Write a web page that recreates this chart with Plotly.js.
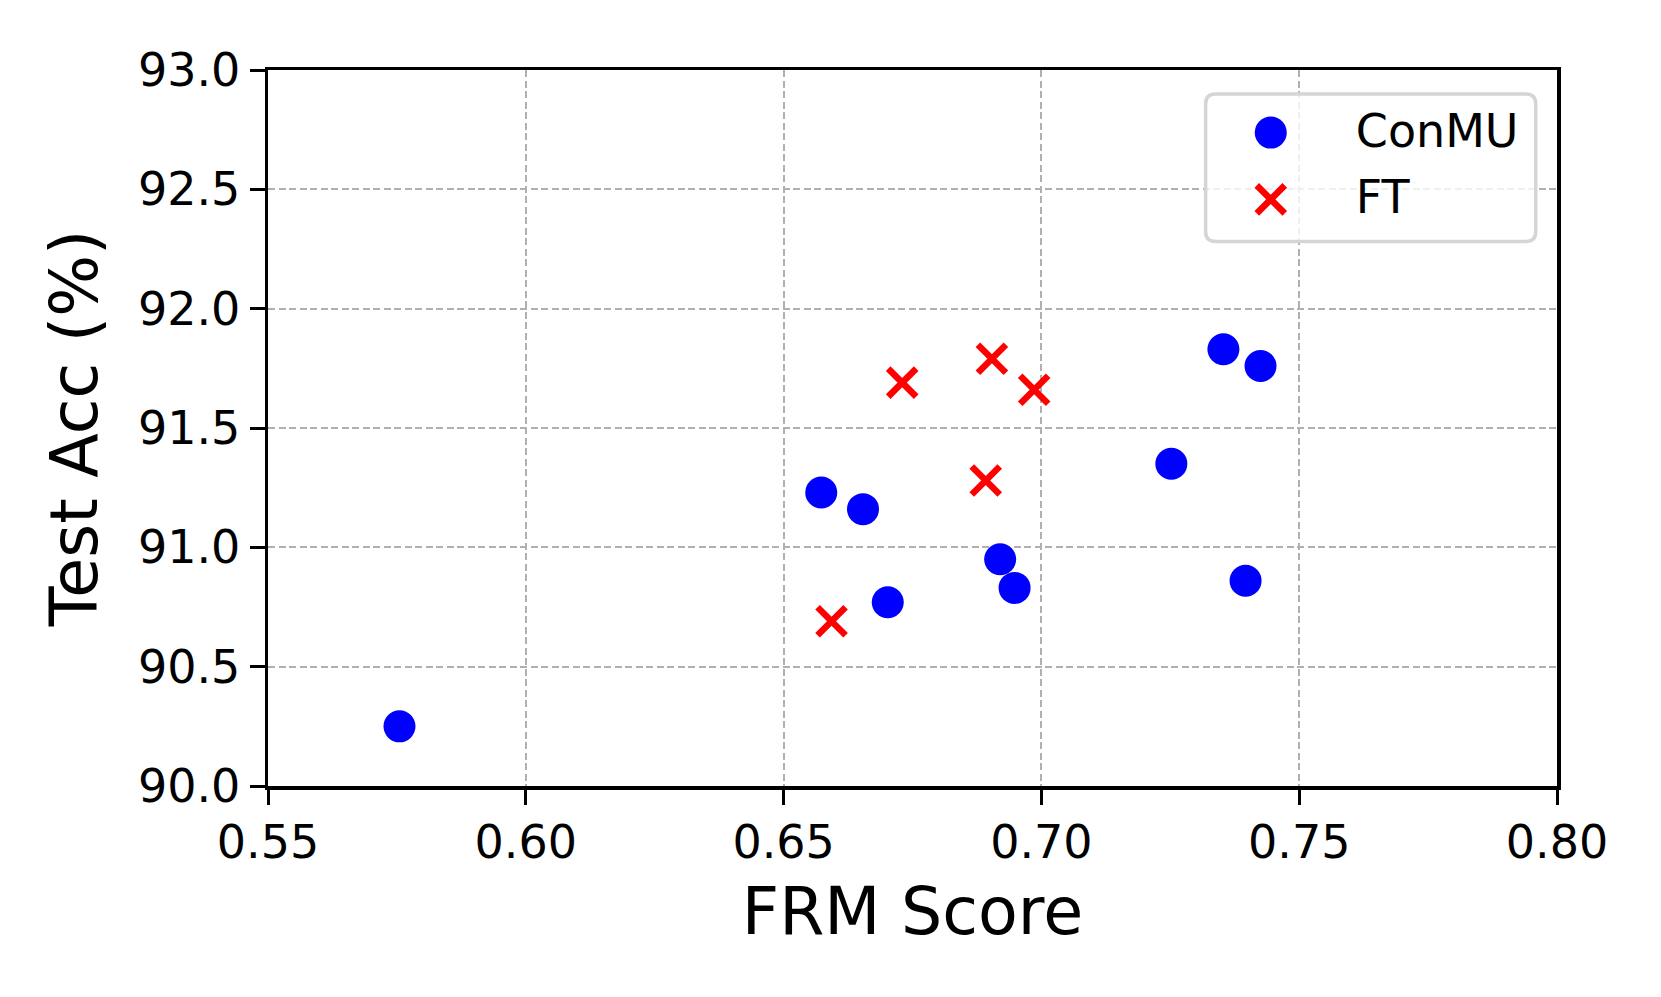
<!DOCTYPE html>
<html>
<head>
<meta charset="utf-8">
<script src="https://cdn.plot.ly/plotly-3.0.1.min.js"></script>
<style>
  html, body { margin: 0; padding: 0; background: #ffffff; }
  #chart { width: 1661px; height: 997px; }
</style>
</head>
<body>
<div id="chart"></div>
<script>
// ---- Data ----
const conmuFRM = [0.5755, 0.6573, 0.6654, 0.6702, 0.6920, 0.6948, 0.7252, 0.7353, 0.7396, 0.7425];
const conmuAcc = [90.25, 91.23, 91.16, 90.77, 90.95, 90.83, 91.35, 91.83, 90.86, 91.76];
const ftFRM = [0.6593, 0.6730, 0.6892, 0.6904, 0.6986];
const ftAcc = [90.69, 91.69, 91.28, 91.79, 91.66];
const seriesNames = ["ConMU", "FT"];
const xTitle = "FRM Score";
const yTitle = "Test Acc (%)";
const xRange = [0.55, 0.80];
const yRange = [90.0, 93.0];

const FONT = "DejaVu Sans, Liberation Sans, sans-serif";

const traces = [
  {
    x: conmuFRM, y: conmuAcc, name: seriesNames[0], type: "scatter", mode: "markers",
    legendgroup: "a",
    marker: { symbol: "circle", size: 32, color: "#0000ff", line: { width: 0 } },
    hoverinfo: "x+y"
  },
  {
    x: ftFRM, y: ftAcc, name: seriesNames[1], type: "scatter", mode: "markers",
    legendgroup: "b",
    marker: { symbol: "x-thin", size: 28, color: "#ff0000", line: { width: 6.5, color: "#ff0000" } },
    hoverinfo: "x+y"
  }
];

// legend frame geometry (paper units)
const lx0 = 0.7274, lx1 = 0.9835, ly0 = 0.7604, ly1 = 0.9664;
const rx = 0.0077, ry = 0.0139;
const framePath =
  `M ${lx0 + rx} ${ly1} L ${lx1 - rx} ${ly1} Q ${lx1} ${ly1} ${lx1} ${ly1 - ry} ` +
  `L ${lx1} ${ly0 + ry} Q ${lx1} ${ly0} ${lx1 - rx} ${ly0} ` +
  `L ${lx0 + rx} ${ly0} Q ${lx0} ${ly0} ${lx0} ${ly0 + ry} ` +
  `L ${lx0} ${ly1 - ry} Q ${lx0} ${ly1} ${lx0 + rx} ${ly1} Z`;

const axisCommon = {
  showline: true, linecolor: "#000000", linewidth: 3.5, mirror: true,
  ticks: "outside", ticklen: 15, tickwidth: 3, tickcolor: "#000000",
  showgrid: true, gridcolor: "#b0b0b0", gridwidth: 2, griddash: "7px,3.5px",
  zeroline: false,
  tickfont: { family: FONT, size: 46, color: "#000000" }
};

const layout = {
  width: 1661, height: 997,
  paper_bgcolor: "#ffffff", plot_bgcolor: "#ffffff",
  margin: { l: 268, r: 104, t: 70, b: 211 },
  showlegend: true,
  xaxis: Object.assign({}, axisCommon, {
    range: xRange, dtick: 0.05, tick0: 0.55, tickformat: ".2f", ticklabelstandoff: -2,
    title: { text: xTitle, font: { family: FONT, size: 65, color: "#000000" }, standoff: 22 }
  }),
  yaxis: Object.assign({}, axisCommon, {
    range: yRange, dtick: 0.5, tick0: 90, tickformat: ".1f",
    title: { text: yTitle, font: { family: FONT, size: 65, color: "#000000" }, standoff: 20 }
  }),
  legend: {
    x: 0.712, xanchor: "left", y: 0.969, yanchor: "top",
    bgcolor: "rgba(0,0,0,0)", borderwidth: 0,
    itemwidth: 160, traceorder: "grouped", tracegroupgap: 4,
    font: { family: FONT, size: 46, color: "#000000" }
  },
  shapes: [
    {
      type: "path", xref: "paper", yref: "paper", layer: "above",
      path: framePath,
      fillcolor: "rgba(255,255,255,0.8)",
      line: { color: "#d5d5d5", width: 3.5 }
    }
  ]
};

Plotly.newPlot("chart", traces, layout, { displayModeBar: false, staticPlot: true }).then(function (gd) {
  // enlarge legend symbols to match the markers in the plot
  const pts = gd.querySelectorAll(".legend .legendpoints path.scatterpts");
  pts.forEach(function (p, i) {
    const t = p.getAttribute("transform") || "";
    if (i === 0) {
      p.setAttribute("transform", t + " translate(0,4) scale(2)");
    } else {
      p.setAttribute("transform", t + " translate(0,4) scale(1.75)");
      p.style.strokeWidth = "3.7px";
    }
  });
});
</script>
</body>
</html>
